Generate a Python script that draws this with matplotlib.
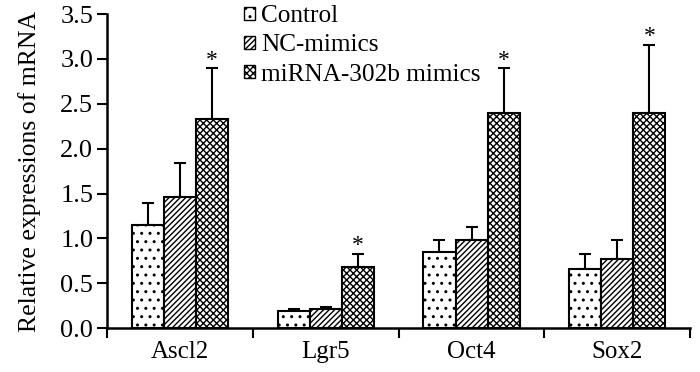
import matplotlib
matplotlib.use("Agg")
import matplotlib.pyplot as plt
import numpy as np

plt.rcParams['font.family'] = ['Liberation Serif', 'DejaVu Serif']
plt.rcParams['hatch.linewidth'] = 1.0

genes = ["Ascl2", "Lgr5", "Oct4", "Sox2"]
series = ["Control", "NC-mimics", "miRNA-302b mimics"]
control = [1.15, 0.19, 0.85, 0.66]
control_err = [0.24, 0.02, 0.13, 0.17]
nc = [1.46, 0.21, 0.98, 0.77]
nc_err = [0.38, 0.02, 0.15, 0.21]
mir = [2.33, 0.68, 2.40, 2.40]
mir_err = [0.57, 0.15, 0.50, 0.76]
significant = [True, True, True, True]
yticks = [0.0, 0.5, 1.0, 1.5, 2.0, 2.5, 3.0, 3.5]

fig = plt.figure(figsize=(7.0, 3.72), dpi=100)
ax = fig.add_axes([0.153, 0.118, 0.833, 0.844])

x = np.arange(len(genes))
w = 0.22
hatches = ['..', '//////', 'xxxxx']
vals = [control, nc, mir]
errs = [control_err, nc_err, mir_err]
for i, (v, e, h, lab) in enumerate(zip(vals, errs, hatches, series)):
    pos = x + (i - 1) * w
    ax.bar(pos, v, w, color='white', edgecolor='black', hatch=h, linewidth=1.5,
           label=lab, zorder=2)
    ax.errorbar(pos, v, yerr=[np.zeros(len(v)), e], fmt='none', ecolor='black',
                elinewidth=1.5, capsize=4, capthick=1.5, zorder=1)

for j, s in enumerate(significant):
    if s:
        top = mir[j] + mir_err[j]
        ax.text(x[j] + w, top - 0.03, '*', ha='center', va='bottom', fontsize=17)

ax.set_xlim(-0.5, 3.5)
ax.set_ylim(0, 3.5)
ax.set_yticks(yticks)
ax.set_yticklabels([f"{t:.1f}" for t in yticks])
ax.set_xticks(x)
ax.set_xticklabels(genes)
ax.set_xticks(np.arange(-0.5, 4.0, 1.0), minor=True)
ax.tick_params(axis='x', which='major', length=0, labelsize=18, pad=9)
ax.tick_params(axis='x', which='minor', length=7, width=1.5, direction='out')
ax.tick_params(axis='y', length=7, width=1.5, direction='out', labelsize=19, pad=3)
for sp in ['top', 'right']:
    ax.spines[sp].set_visible(False)
for sp in ['left', 'bottom']:
    ax.spines[sp].set_linewidth(1.8)
ax.set_ylabel("Relative expressions of mRNA", fontsize=18.5, labelpad=14)

leg = ax.legend(loc='upper left', bbox_to_anchor=(0.218, 1.06), frameon=False,
                fontsize=18.2, handlelength=0.42, handleheight=0.42,
                handletextpad=0.25, labelspacing=0.28, borderaxespad=0)
for p in leg.get_patches():
    p.set_linewidth(1.0)

fig.savefig("out.png", dpi=100)
